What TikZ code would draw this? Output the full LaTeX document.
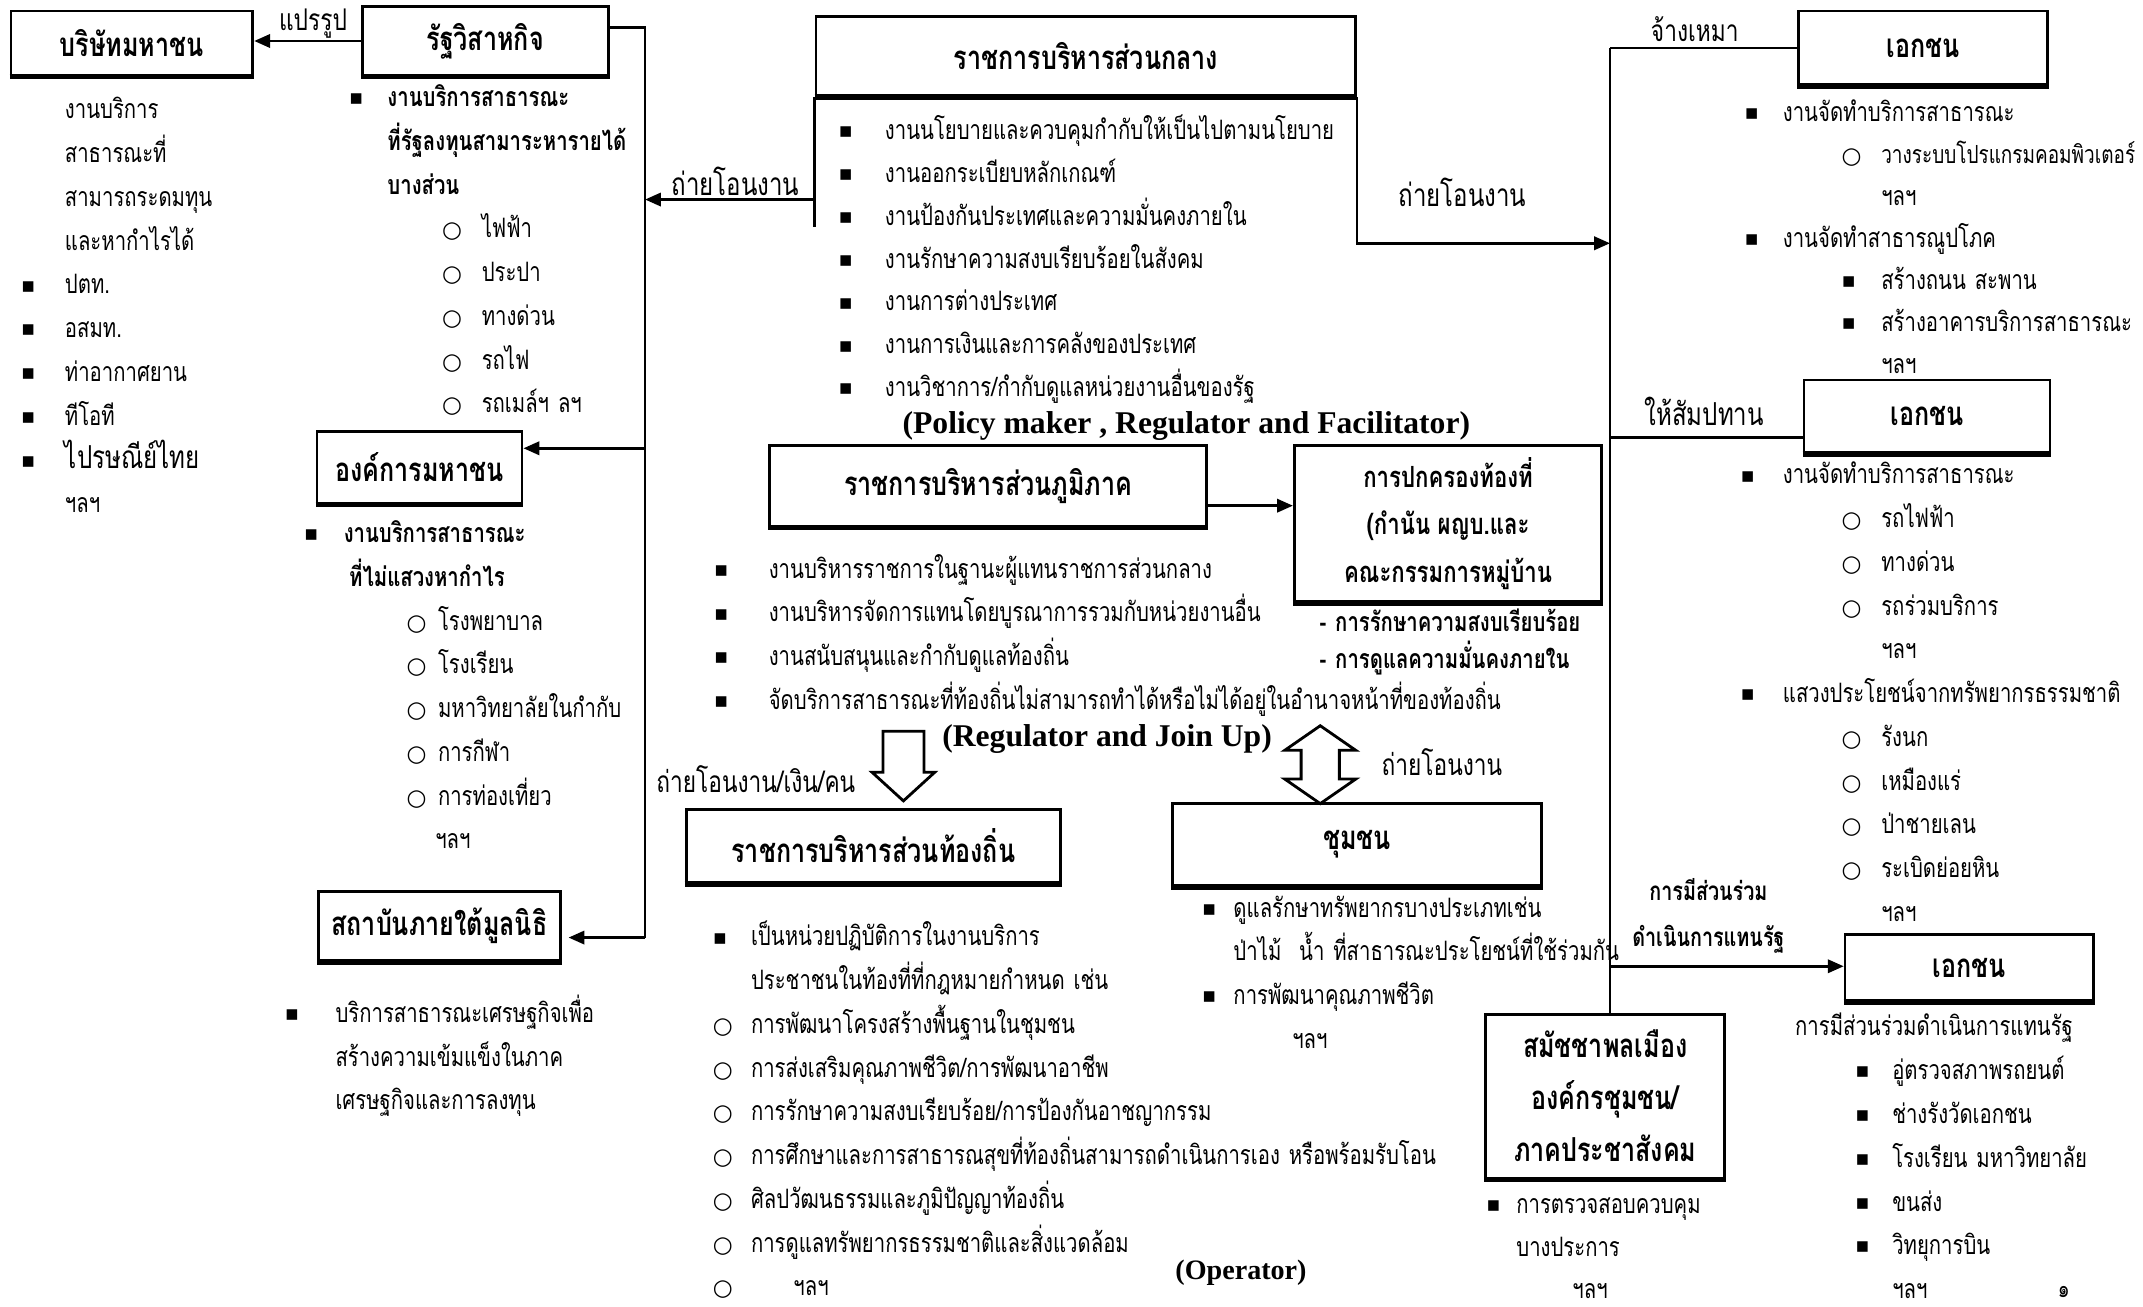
\documentclass[tikz,border=0pt]{standalone}
\usepackage{fontspec}
\setmainfont{Liberation Serif}
\newfontfamily\thai[Script=Thai,FakeStretch=0.76]{Loma}
\newfontfamily\symf{DejaVu Sans}
\usetikzlibrary{arrows.meta,positioning}
\newlength\unitpx
\setlength\unitpx{0.13667mm}
\newcommand\bodyfont{\thai\fontsize{7.6}{12.45}\selectfont}
\newcommand\boxfont{\thai\bfseries\fontsize{9.4}{13.6}\selectfont}
\newcommand\lblfont{\thai\fontsize{8.5}{10}\selectfont}
\newcommand\sqb[1]{\makebox[#1\unitpx][l]{\raisebox{0.5pt}{\symf\fontsize{6}{6}\selectfont ▪}}}
\newcommand\cib[1]{\makebox[#1\unitpx][l]{\symf\fontsize{6.5}{6.5}\selectfont ○}}
\newcommand\indpx[1]{\hspace*{#1\unitpx}}
\tikzset{
  unitbox/.style={draw,line width=0.8pt,fill=white,inner sep=0pt,align=center,
    font=\boxfont},
  itemlist/.style={anchor=base west,inner sep=0pt,text width=700\unitpx,
    align=left,font=\bodyfont},
  lbl/.style={inner sep=0pt,font=\lblfont},
  engl/.style={inner sep=0pt,font=\bfseries\fontsize{9}{10}\selectfont},
  link/.style={line width=0.7pt},
  arr/.style={link,-{Triangle[length=4.5pt,width=3.8pt]}},
  blockarr/.style={draw,fill=white,line width=0.8pt,line join=miter}
}

\begin{document}
\begin{tikzpicture}[x=0.13667mm,y=-0.13667mm]
  \path[use as bounding box,fill=white] (0,0) rectangle (1568,956);

  % boxes
  \node[unitbox,minimum width=177\unitpx,minimum height=47\unitpx] (pubco) at (96.5,31.5) {บริษัทมหาชน};
  \node[unitbox,minimum width=180\unitpx,minimum height=50\unitpx] (soe) at (355,30) {รัฐวิสาหกิจ};
  \node[unitbox,minimum width=395\unitpx,minimum height=58\unitpx] (central) at (794.5,41) {ราชการบริหารส่วนกลาง};
  \node[unitbox,minimum width=150\unitpx,minimum height=52\unitpx] (puborg) at (307,342) {องค์การมหาชน};
  \node[unitbox,minimum width=177\unitpx,minimum height=51\unitpx] (found) at (321.5,677.5) {สถาบันภายใต้มูลนิธิ};
  \node[unitbox,minimum width=320\unitpx,minimum height=59\unitpx] (region) at (723,355.5) {ราชการบริหารส่วนภูมิภาค};
  \node[unitbox,minimum width=225\unitpx,minimum height=114\unitpx,
    font=\thai\bfseries\fontsize{8.3}{13.6}\selectfont] (localgov) at (1059.5,383)
    {การปกครองท้องที่\\(กำนัน ผญบ.และ\\คณะกรรมการหมู่บ้าน};
  \node[unitbox,minimum width=274\unitpx,minimum height=54\unitpx] (local) at (639,619) {ราชการบริหารส่วนท้องถิ่น};
  \node[unitbox,minimum width=270\unitpx,minimum height=60\unitpx] (comm) at (993,618) {ชุมชน};
  \node[unitbox,minimum width=182\unitpx,minimum height=54\unitpx] (priv1) at (1407,35) {เอกชน};
  \node[unitbox,minimum width=180\unitpx,minimum height=53\unitpx] (priv2) at (1410,304.5) {เอกชน};
  \node[unitbox,minimum width=182\unitpx,minimum height=48\unitpx] (priv3) at (1441,708) {เอกชน};
  \node[unitbox,minimum width=175\unitpx,minimum height=120\unitpx,
    font=\thai\bfseries\fontsize{9.4}{14.8}\selectfont] (civic) at (1174.5,802)
    {สมัชชาพลเมือง\\องค์กรชุมชน/\\ภาคประชาสังคม};
  \foreach \b in {pubco,soe,central,puborg,found,region,localgov,local,comm,priv1,priv2,priv3,civic}
    \draw[line width=1.6pt] (\b.south west) -- (\b.south east);

  % junctions
  \coordinate (lj) at (472,20);
  \coordinate (lj1) at (472,146);
  \coordinate (lj2) at (472,328);
  \coordinate (lj3) at (472,686);
  \coordinate (rj0) at (1178,35);
  \coordinate (rj1) at (1178,178);
  \coordinate (rj2) at (1178,320);
  \coordinate (rj3) at (1178,707);

  % connectors
  \draw[arr] (soe.west) -- (soe.west -| pubco.east);
  \draw[link] (soe.east |- lj) -- (lj) -- (lj3);
  \draw[arr] (lj2) -- (lj2 -| puborg.east);
  \draw[arr,shorten >=5\unitpx] (lj3) -- (lj3 -| found.east);
  \draw[arr] (central.south west |- lj1) -- (lj1);
  \draw[link] (central.south west) -- ++(0,95);
  \draw[arr] (central.south east) -- (central.south east |- rj1) -- (rj1);
  \draw[link] (rj0) -- (rj0 |- civic.north);
  \draw[link] (rj0) -- (priv1.west);
  \draw[link] (rj2) -- (rj2 -| priv2.west);
  \draw[arr] (rj3) -- (rj3 -| priv3.west);
  \draw[arr] ([yshift=-14.5\unitpx]region.east) -- ([yshift=-14.5\unitpx]region.east -| localgov.west);

  % block arrows
  \path[blockarr] (646,535) -- (676,535) -- (676,565) -- (684,565) -- (661,586)
    -- (638,565) -- (646,565) -- cycle;
  \path[blockarr] (966,531) -- (992,549) -- (980,549) -- (980,570) -- (992,570)
    -- (966,588) -- (940,570) -- (952,570) -- (952,549) -- (940,549) -- cycle;

  % labels
  \node[lbl] (lreform) at (229,17) {แปรรูป};
  \node[lbl,font=\thai\fontsize{9}{10}\selectfont] (ltransl) at (538,133) {ถ่ายโอนงาน};
  \node[lbl,font=\thai\fontsize{9}{10}\selectfont] (ltransr) at (1070,141) {ถ่ายโอนงาน};
  \node[lbl] (lhire) at (1240,21) {จ้างเหมา};
  \node[lbl,font=\thai\fontsize{9}{10}\selectfont] (lconc) at (1247,301) {ให้สัมปทาน};
  \node[lbl,align=center,font=\thai\bfseries\fontsize{7.4}{13.2}\selectfont] (lpart) at (1250,670)
    {การมีส่วนร่วม\\ดำเนินการแทนรัฐ};
  \node[lbl] (ltransdn) at (553,570) {ถ่ายโอนงาน/เงิน/คน};
  \node[lbl] (ltransup) at (1055,558) {ถ่ายโอนงาน};
  \node[engl] (lpolicy) at (868,312) {(Policy maker , Regulator and Facilitator)};
  \node[engl] (ljoin) at (810,541) {(Regulator and Join Up)};
  \node[engl,font=\bfseries\fontsize{8}{9}\selectfont] (loper) at (908,931) {(Operator)};
  \node[lbl,font=\thai\fontsize{7}{8}\selectfont] (lpage) at (1510,945) {๑};

  % item lists
  \node[itemlist] (lpubco) at (15,87) {%
    \indpx{32}งานบริการ\\
    \indpx{32}สาธารณะที่\\
    \indpx{32}สามารถระดมทุน\\
    \indpx{32}และหากำไรได้\\
    \sqb{32}ปตท.\\
    \sqb{32}อสมท.\\
    \sqb{32}ท่าอากาศยาน\\
    \sqb{32}ทีโอที\\
    \sqb{32}{\fontsize{9}{12.45}\selectfont ไปรษณีย์ไทย}\\
    \indpx{32}ฯลฯ};
  \node[itemlist] (lsoe) at (255,78) {%
    \sqb{28}\textbf{งานบริการสาธารณะ}\\
    \indpx{28}\textbf{ที่รัฐลงทุนสามาระหารายได้}\\
    \indpx{28}\textbf{บางส่วน}\\
    \indpx{68}\cib{29}ไฟฟ้า\\
    \indpx{68}\cib{29}ประปา\\
    \indpx{68}\cib{29}ทางด่วน\\
    \indpx{68}\cib{29}รถไฟ\\
    \indpx{68}\cib{29}รถเมล์ฯ ลฯ};
  \node[itemlist] (lpuborg) at (222,397) {%
    \sqb{29}\textbf{งานบริการสาธารณะ}\\
    \indpx{33}\textbf{ที่ไม่แสวงหากำไร}\\
    \indpx{75}\cib{23}โรงพยาบาล\\
    \indpx{75}\cib{23}โรงเรียน\\
    \indpx{75}\cib{23}มหาวิทยาลัยในกำกับ\\
    \indpx{75}\cib{23}การกีฬา\\
    \indpx{75}\cib{23}การท่องเที่ยว\\
    \indpx{96}ฯลฯ};
  \node[itemlist] (lfound) at (208,748) {%
    \sqb{37}บริการสาธารณะเศรษฐกิจเพื่อ\\
    \indpx{37}สร้างความเข้มแข็งในภาค\\
    \indpx{37}เศรษฐกิจและการลงทุน};
  \node[itemlist,font=\thai\fontsize{7.6}{12.2}\selectfont] (lcentral) at (613,102) {%
    \sqb{34}งานนโยบายและควบคุมกำกับให้เป็นไปตามนโยบาย\\
    \sqb{34}งานออกระเบียบหลักเกณฑ์\\
    \sqb{34}งานป้องกันประเทศและความมั่นคงภายใน\\
    \sqb{34}งานรักษาความสงบเรียบร้อยในสังคม\\
    \sqb{34}งานการต่างประเทศ\\
    \sqb{34}งานการเงินและการคลังของประเทศ\\
    \sqb{34}งานวิชาการ/กำกับดูแลหน่วยงานอื่นของรัฐ};
  \node[itemlist] (lregion) at (522,423) {%
    \sqb{40}งานบริหารราชการในฐานะผู้แทนราชการส่วนกลาง\\
    \sqb{40}งานบริหารจัดการแทนโดยบูรณาการรวมกับหน่วยงานอื่น\\
    \sqb{40}งานสนับสนุนและกำกับดูแลท้องถิ่น\\
    \sqb{40}จัดบริการสาธารณะที่ท้องถิ่นไม่สามารถทำได้หรือไม่ได้อยู่ในอำนาจหน้าที่ของท้องถิ่น};
  \node[itemlist,font=\thai\bfseries\fontsize{7.6}{10.5}\selectfont] (llocalgov) at (965,462) {%
    - การรักษาความสงบเรียบร้อย\\
    - การดูแลความมั่นคงภายใน};
  \node[itemlist] (llocal) at (521,692) {%
    \sqb{28}เป็นหน่วยปฏิบัติการในงานบริการ\\
    \indpx{28}ประชาชนในท้องที่ที่กฎหมายกำหนด เช่น\\
    \cib{28}การพัฒนาโครงสร้างพื้นฐานในชุมชน\\
    \cib{28}การส่งเสริมคุณภาพชีวิต/การพัฒนาอาชีพ\\
    \cib{28}การรักษาความสงบเรียบร้อย/การป้องกันอาชญากรรม\\
    \cib{28}การศึกษาและการสาธารณสุขที่ท้องถิ่นสามารถดำเนินการเอง หรือพร้อมรับโอน\\
    \cib{28}ศิลปวัฒนธรรมและภูมิปัญญาท้องถิ่น\\
    \cib{28}การดูแลทรัพยากรธรรมชาติและสิ่งแวดล้อม\\
    \cib{59}ฯลฯ};
  \node[itemlist] (lcomm) at (879,671) {%
    \sqb{23}ดูแลรักษาทรัพยากรบางประเภทเช่น\\
    \indpx{23}ป่าไม้\ \ น้ำ ที่สาธารณะประโยชน์ที่ใช้ร่วมกัน\\
    \sqb{23}การพัฒนาคุณภาพชีวิต\\
    \indpx{66}ฯลฯ};
  \node[itemlist,font=\thai\fontsize{7.6}{11.95}\selectfont] (lpriv1) at (1276,89) {%
    \sqb{28}งานจัดทำบริการสาธารณะ\\
    \indpx{71}\cib{29}{\fontsize{7.1}{11.95}\selectfont วางระบบโปรแกรมคอมพิวเตอร์}\\
    \indpx{100}ฯลฯ\\
    \sqb{28}งานจัดทำสาธารณูปโภค\\
    \indpx{71}\sqb{29}สร้างถนน สะพาน\\
    \indpx{71}\sqb{29}สร้างอาคารบริการสาธารณะ\\
    \indpx{100}ฯลฯ};
  \node[itemlist] (lpriv2) at (1273,354) {%
    \sqb{31}งานจัดทำบริการสาธารณะ\\
    \indpx{74}\cib{29}รถไฟฟ้า\\
    \indpx{74}\cib{29}ทางด่วน\\
    \indpx{74}\cib{29}รถร่วมบริการ\\
    \indpx{103}ฯลฯ\\
    \sqb{31}แสวงประโยชน์จากทรัพยากรธรรมชาติ\\
    \indpx{74}\cib{29}รังนก\\
    \indpx{74}\cib{29}เหมืองแร่\\
    \indpx{74}\cib{29}ป่าชายเลน\\
    \indpx{74}\cib{29}ระเบิดย่อยหิน\\
    \indpx{103}ฯลฯ};
  \node[itemlist] (lpriv3) at (1313,758) {%
    การมีส่วนร่วมดำเนินการแทนรัฐ\\
    \indpx{44}\sqb{27}อู่ตรวจสภาพรถยนต์\\
    \indpx{44}\sqb{27}ช่างรังวัดเอกชน\\
    \indpx{44}\sqb{27}โรงเรียน มหาวิทยาลัย\\
    \indpx{44}\sqb{27}ขนส่ง\\
    \indpx{44}\sqb{27}วิทยุการบิน\\
    \indpx{71}ฯลฯ};
  \node[itemlist,font=\thai\fontsize{7.6}{12.05}\selectfont] (lcivic) at (1087,888) {%
    \sqb{22}การตรวจสอบควบคุม\\
    \indpx{22}บางประการ\\
    \indpx{63}ฯลฯ};
\end{tikzpicture}
\end{document}
